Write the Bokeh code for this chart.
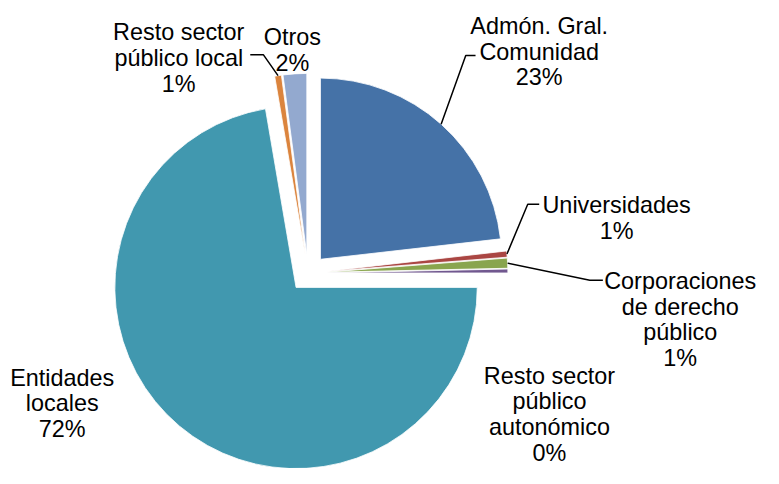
import math
from bokeh.plotting import figure
from bokeh.models import ColumnDataSource, Range1d
from bokeh.embed import file_html
from bokeh.resources import INLINE
from bokeh.core.properties import value

# ---------------- data ----------------
categories = [
    "Admón. Gral. Comunidad",
    "Universidades",
    "Corporaciones de derecho público",
    "Resto sector público autonómico",
    "Entidades locales",
    "Resto sector público local",
    "Otros",
]
label_lines = [
    ["Admón. Gral.", "Comunidad"],
    ["Universidades"],
    ["Corporaciones", "de derecho", "público"],
    ["Resto sector", "público", "autonómico"],
    ["Entidades", "locales"],
    ["Resto sector", "público local"],
    ["Otros"],
]
shares = [23.2, 0.55, 0.9, 0.35, 72.3, 0.6, 2.1]

# ---------------- styles / layout ----------------
colors = ["#4572A7", "#AA4643", "#89A54E", "#71588F", "#4198AF", "#DB843D", "#93A9CF"]
W, H = 763, 468            # canvas size (fits the window with its 8px margin)
VW, VH = 779, 484          # design coordinate system
K = (W / VW) / (H / VH)    # keeps circles round on screen
CX, CY = 314, 282          # pie centre (design px, from top)
R = 185
EXPLODE = 19
FONT = "Liberation Sans"
FONT_SIZE = "23.4px"
LINE_H = 26.5
# (centre x, first baseline y from top) in design px
label_pos = [(550, 26.5), (629, 211.5), (694, 290), (560.5, 388),
             (63, 390), (182, 33), (298, 38)]
# leader line elbows (design px, from top) for labels that have one
leader_pts = {
    0: [(475, 57), (485, 57)],
    1: [(538.3, 210.7), (550, 210.7)],
    2: [(601.7, 289.3), (615, 289.3)],
    5: [(268.3, 56), (255, 56)],
}


def fy(y):
    return VH - y


total = sum(shares)
pcts = [f"{round(s / total * 100)}%" for s in shares]

# wedge geometry (compass angles, clockwise from 12 o'clock)
xs, ys, starts, ends, mids = [], [], [], [], []
acc = 0.0
for s in shares:
    a1 = acc / total * 2 * math.pi
    acc += s
    a2 = acc / total * 2 * math.pi
    m = (a1 + a2) / 2
    mids.append(m)
    xs.append(CX + EXPLODE * math.sin(m))
    ys.append(fy(CY) + EXPLODE * math.cos(m) * K)
    starts.append(math.pi / 2 - a1)
    ends.append(math.pi / 2 - a2)

src = ColumnDataSource(dict(x=xs, y=ys, start=starts, end=ends, color=colors, cat=categories))

p = figure(width=W, height=H, x_range=Range1d(0, VW), y_range=Range1d(0, VH),
           output_backend="svg", toolbar_location=None, min_border=0,
           x_axis_location=None, y_axis_location=None)
p.grid.visible = False
p.outline_line_color = None
p.background_fill_color = "white"
p.border_fill_color = "white"

p.wedge(x="x", y="y", radius=R, start_angle="start", end_angle="end",
        direction="clock", fill_color="color", line_color="white",
        line_width=0.8, source=src)

# leader lines
for i, pts in leader_pts.items():
    m = mids[i]
    sx = CX + (EXPLODE + R) * math.sin(m)
    sy = fy(CY) + (EXPLODE + R) * math.cos(m) * K
    lx = [sx] + [a for a, b in pts]
    ly = [sy] + [fy(b) for a, b in pts]
    p.line(lx, ly, line_color="black", line_width=1.5)

# labels
tx, ty, tt = [], [], []
for i, lines in enumerate(label_lines):
    cx, b0 = label_pos[i]
    for k, t in enumerate(lines + [pcts[i]]):
        tx.append(cx)
        ty.append(fy(b0 + k * LINE_H))
        tt.append(t)
p.text(x=tx, y=ty, text=tt, text_font=value(FONT), text_font_size=FONT_SIZE,
       text_align="center", text_baseline="alphabetic", text_color="black")

open("out.html", "w").write(file_html(p, INLINE))
